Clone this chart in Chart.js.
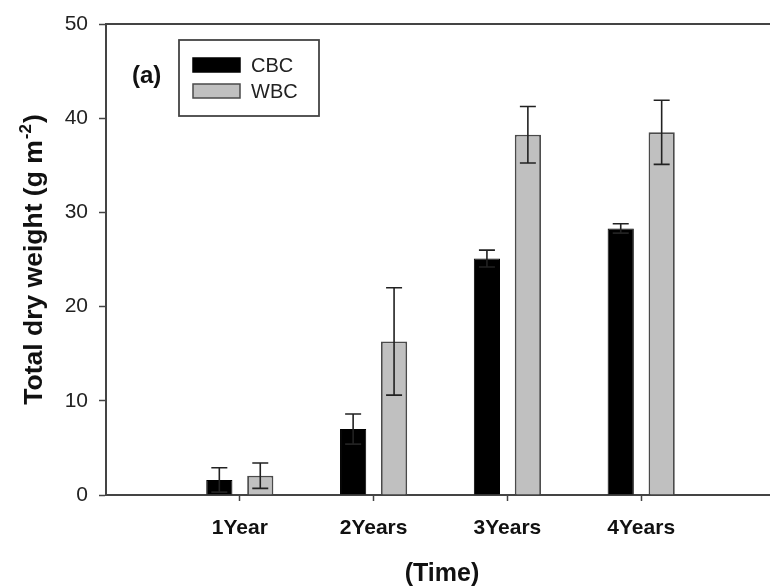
<!DOCTYPE html>
<html>
<head>
<meta charset="utf-8">
<script src="https://cdn.jsdelivr.net/npm/chart.js@4/dist/chart.umd.min.js"></script>
<style>
  html, body { margin: 0; padding: 0; background: #fff; overflow: hidden; }
  #wrap { width: 790px; height: 588px; position: relative; }
  #c { width: 790px; height: 588px; display: block; }
</style>
</head>
<body>
<div id="wrap"><canvas id="c" width="790" height="588"></canvas></div>
<script>
// Total dry weight per age class, mean and error-bar half-length (g m-2)
const categories = ['1Year', '2Years', '3Years', '4Years'];
const cbcValues = [1.6, 7.0, 25.1, 28.3];
const cbcErrors = [1.3, 1.6, 0.9, 0.5];
const wbcValues = [2.05, 16.3, 38.25, 38.5];
const wbcErrors = [1.35, 5.7, 3.0, 3.4];
const yTicks = [0, 10, 20, 30, 40, 50];
const seriesNames = ['CBC', 'WBC'];
const panelTag = '(a)';
const xTitle = '(Time)';
const yTitleMain = 'Total dry weight (g m';
const yTitleSup = '-2';
const yTitleEnd = ')';

const FONT = '"Liberation Sans", Arial, sans-serif';

// an empty slot on each side keeps the groups away from the frame
const labels = ['', ...categories, ''];
const pad = arr => [null, ...arr, null];

const frameAndDecor = {
  id: 'frameAndDecor',
  afterDatasetsDraw(chart) {
    const { ctx, chartArea } = chart;
    const y = chart.scales.y;
    ctx.save();

    // error bars
    const errs = [cbcErrors, wbcErrors];
    chart.data.datasets.forEach((ds, di) => {
      const meta = chart.getDatasetMeta(di);
      meta.data.forEach((bar, i) => {
        const v = ds.data[i];
        if (v == null) return;
        const e = errs[di][i - 1];
        const yt = y.getPixelForValue(v + e);
        const yb = y.getPixelForValue(v - e);
        const x = bar.x;
        ctx.strokeStyle = '#222';
        ctx.lineWidth = 1.6;
        ctx.beginPath();
        ctx.moveTo(x, yt); ctx.lineTo(x, yb);
        ctx.moveTo(x - 8, yt); ctx.lineTo(x + 8, yt);
        ctx.moveTo(x - 8, yb); ctx.lineTo(x + 8, yb);
        ctx.stroke();
      });
    });

    // top frame line
    ctx.strokeStyle = '#444';
    ctx.lineWidth = 2;
    ctx.beginPath();
    ctx.moveTo(chartArea.left - 1, chartArea.top);
    ctx.lineTo(chartArea.right + 10, chartArea.top);
    ctx.stroke();

    // legend box
    ctx.lineWidth = 1.8;
    ctx.strokeStyle = '#444';
    ctx.strokeRect(179, 40, 140, 76);
    chart.data.datasets.forEach((ds, di) => {
      const sy = 58 + di * 26;
      ctx.fillStyle = ds.backgroundColor;
      ctx.fillRect(193, sy, 47, 14);
      ctx.lineWidth = 1.5;
      ctx.strokeStyle = ds.borderColor;
      ctx.strokeRect(193, sy, 47, 14);
      ctx.fillStyle = '#222';
      ctx.font = '20px ' + FONT;
      ctx.textAlign = 'left';
      ctx.textBaseline = 'middle';
      ctx.fillText(ds.label, 251, sy + 8);
    });

    // panel tag
    ctx.fillStyle = '#111';
    ctx.font = 'bold 24px ' + FONT;
    ctx.textAlign = 'left';
    ctx.textBaseline = 'middle';
    ctx.fillText(panelTag, 132, 76);

    // x title
    ctx.font = 'bold 25px ' + FONT;
    ctx.textAlign = 'center';
    ctx.fillText(xTitle, 442, 574);

    // y title with superscript
    ctx.translate(42, (chartArea.top + chartArea.bottom) / 2);
    ctx.rotate(-Math.PI / 2);
    ctx.textBaseline = 'alphabetic';
    ctx.textAlign = 'left';
    const big = 'bold 26.5px ' + FONT, small = 'bold 17px ' + FONT;
    ctx.font = big; const w1 = ctx.measureText(yTitleMain).width;
    const w3 = ctx.measureText(yTitleEnd).width;
    ctx.font = small; const w2 = ctx.measureText(yTitleSup).width;
    let x0 = -(w1 + w2 + w3 + 2) / 2;
    ctx.font = big; ctx.fillText(yTitleMain, x0, 0);
    ctx.font = small; ctx.fillText(yTitleSup, x0 + w1 + 1, -11);
    ctx.font = big; ctx.fillText(yTitleEnd, x0 + w1 + w2 + 2, 0);

    ctx.restore();
  }
};

new Chart(document.getElementById('c'), {
  type: 'bar',
  data: {
    labels: labels,
    datasets: [
      {
        label: seriesNames[0],
        data: pad(cbcValues),
        backgroundColor: '#000000',
        borderColor: '#000000',
        borderWidth: 1,
        categoryPercentage: 0.612,
        barPercentage: 0.64
      },
      {
        label: seriesNames[1],
        data: pad(wbcValues),
        backgroundColor: '#c0c0c0',
        borderColor: '#4a4a4a',
        borderWidth: 1.8,
        categoryPercentage: 0.612,
        barPercentage: 0.64
      }
    ]
  },
  options: {
    responsive: false,
    maintainAspectRatio: false,
    animation: false,
    devicePixelRatio: 1,
    layout: { padding: { top: 24, right: 4, left: 0, bottom: 0 } },
    plugins: { legend: { display: false }, tooltip: { enabled: false } },
    scales: {
      x: {
        offset: false,
        grid: {
          offset: false,
          drawOnChartArea: false,
          drawTicks: true,
          tickLength: 6,
          tickWidth: 1.5,
          tickColor: ctx => (labels[ctx.index] ? '#444' : 'rgba(0,0,0,0)')
        },
        border: { display: true, color: '#444', width: 2 },
        ticks: {
          autoSkip: false,
          maxRotation: 0,
          padding: 15,
          color: '#111',
          font: { family: FONT, size: 21, weight: 'bold' }
        },
        afterFit: s => { s.height = 93; }
      },
      y: {
        min: 0,
        max: 50,
        afterBuildTicks: s => { s.ticks = yTicks.map(v => ({ value: v })); },
        grid: {
          drawOnChartArea: false,
          drawTicks: true,
          tickLength: 7,
          tickWidth: 1.5,
          tickColor: '#444'
        },
        border: { display: true, color: '#444', width: 2 },
        ticks: {
          padding: 11,
          color: '#222',
          font: { family: FONT, size: 21 }
        },
        afterFit: s => { s.width = 106; }
      }
    }
  },
  plugins: [frameAndDecor]
});
</script>
</body>
</html>
